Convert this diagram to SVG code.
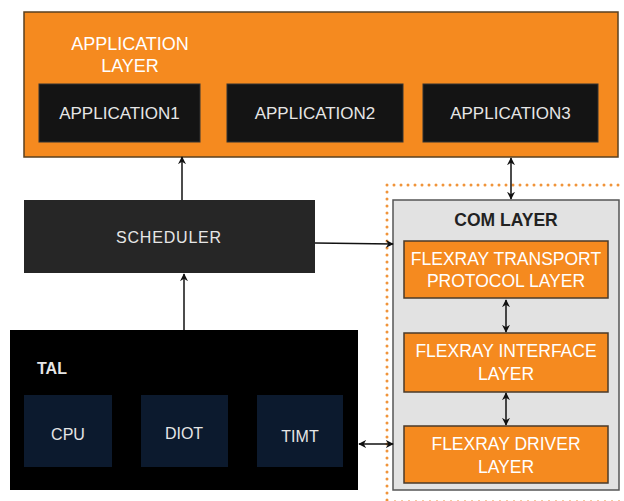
<svg xmlns="http://www.w3.org/2000/svg" width="624" height="501" viewBox="0 0 624 501">
<style>
.t{font-family:"Liberation Sans",Arial,sans-serif;font-size:17.5px;text-anchor:middle}
.lt{fill:#e6e6e6}
.w{fill:#ffffff}
.orange{fill:#f58a1f;stroke:#5a4020;stroke-width:1.5}
.app{fill:#141414;stroke:#333;stroke-width:1}
.sub{fill:#f58a1f;stroke:#4a3a2a;stroke-width:1.5}
.nav{fill:#0c1a2e}
.conn{stroke:#111;stroke-width:1.5;fill:none}
</style>
<defs>
<marker id="ah" viewBox="0 0 10 10" refX="9" refY="5" markerWidth="8" markerHeight="8" orient="auto-start-reverse" markerUnits="userSpaceOnUse">
<path d="M0,0 L10,5 L0,10 L3,5 z" fill="#111"/>
</marker>
</defs>
<rect width="624" height="501" fill="#ffffff"/>
<g id="dotted">
<path d="M387,185 H624 M387,185 V501" stroke="#f0943a" stroke-width="3" stroke-linecap="round" stroke-dasharray="0 7" fill="none"/>
<path d="M394,500.5 H624" stroke="#f5c9a0" stroke-width="1" stroke-dasharray="2 5" fill="none"/>
</g>
<g id="application-layer">
<rect class="orange" x="24" y="12" width="594" height="145"/>
<text class="t w" x="130" y="50" style="font-size:18px">APPLICATION</text>
<text class="t w" x="130" y="72" style="font-size:18px">LAYER</text>
</g>
<g id="application1">
<rect class="app" x="39" y="84" width="161" height="58"/>
<text class="t lt" x="119.5" y="119" style="font-size:17px">APPLICATION1</text>
</g>
<g id="application2">
<rect class="app" x="227" y="84" width="176" height="58"/>
<text class="t lt" x="315" y="119" style="font-size:17px">APPLICATION2</text>
</g>
<g id="application3">
<rect class="app" x="423" y="84" width="175" height="58"/>
<text class="t lt" x="510.5" y="119" style="font-size:17px">APPLICATION3</text>
</g>
<g id="scheduler">
<rect x="24" y="200" width="291" height="73" fill="#262626"/>
<text class="t lt" x="169" y="243" style="font-size:16px;letter-spacing:0.8px">SCHEDULER</text>
</g>
<g id="tal">
<rect x="10" y="330" width="348" height="160" fill="#000"/>
<text x="37" y="374" font-family="Liberation Sans, Arial, sans-serif" font-size="16" font-weight="bold" fill="#e6e6e6">TAL</text>
</g>
<g id="cpu">
<rect class="nav" x="24" y="395" width="88" height="72"/>
<text class="t lt" x="68" y="440" style="font-size:16px">CPU</text>
</g>
<g id="diot">
<rect class="nav" x="141" y="395" width="87" height="72"/>
<text class="t lt" x="184" y="439" style="font-size:16px">DIOT</text>
</g>
<g id="timt">
<rect class="nav" x="257" y="395" width="86" height="72"/>
<text class="t lt" x="300" y="442" style="font-size:16px">TIMT</text>
</g>
<g id="com-layer">
<rect x="393" y="200" width="226" height="290" fill="#e2e2e2" stroke="#555" stroke-width="1.5"/>
<text x="506" y="226" font-family="Liberation Sans, Arial, sans-serif" font-size="17.5" font-weight="bold" fill="#222" text-anchor="middle">COM LAYER</text>
</g>
<g id="flexray-tp">
<rect class="sub" x="404" y="241" width="204" height="57"/>
<text class="t w" x="506" y="265">FLEXRAY TRANSPORT</text>
<text class="t w" x="506" y="287">PROTOCOL LAYER</text>
</g>
<g id="flexray-if">
<rect class="sub" x="404" y="333" width="204" height="59"/>
<text class="t w" x="506" y="357">FLEXRAY INTERFACE</text>
<text class="t w" x="506" y="380">LAYER</text>
</g>
<g id="flexray-drv">
<rect class="sub" x="404" y="426" width="204" height="57"/>
<text class="t w" x="506" y="450">FLEXRAY DRIVER</text>
<text class="t w" x="506" y="473">LAYER</text>
</g>
<g id="connectors">
<line class="conn" x1="182" y1="200" x2="182" y2="157" marker-end="url(#ah)"/>
<line class="conn" x1="184" y1="330" x2="184" y2="274" marker-end="url(#ah)"/>
<line class="conn" x1="511" y1="158" x2="511" y2="199" marker-start="url(#ah)" marker-end="url(#ah)" stroke="#444"/>
<line class="conn" x1="315" y1="243" x2="393" y2="244" marker-end="url(#ah)" stroke="#555"/>
<line class="conn" x1="359" y1="444" x2="393" y2="444" marker-start="url(#ah)" marker-end="url(#ah)"/>
<line class="conn" x1="506" y1="300" x2="506" y2="332" marker-start="url(#ah)" marker-end="url(#ah)" stroke-width="2"/>
<line class="conn" x1="506" y1="393" x2="506" y2="425" marker-start="url(#ah)" marker-end="url(#ah)" stroke-width="2"/>
</g>
</svg>
